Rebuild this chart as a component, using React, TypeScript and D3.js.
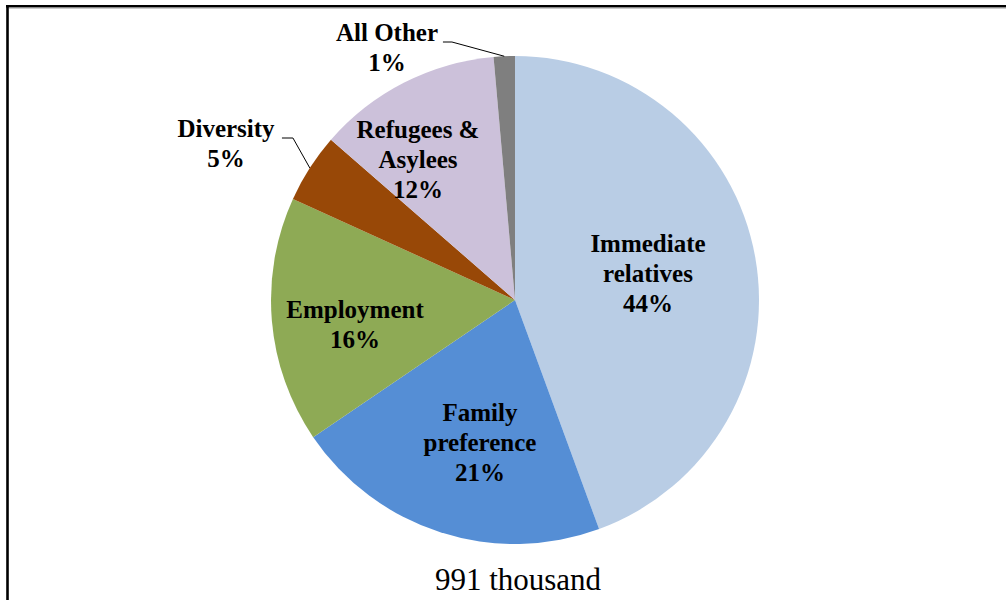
import * as d3 from "d3";

// categories & values (share of total, %)
const categories = [
  "Immediate relatives",
  "Family preference",
  "Employment",
  "Diversity",
  "Refugees & Asylees",
  "All Other",
];
const values = [44.4, 21.1, 16.3, 4.6, 12.2, 1.4];
const labelLines = [
  ["Immediate", "relatives"],
  ["Family", "preference"],
  ["Employment"],
  ["Diversity"],
  ["Refugees &", "Asylees"],
  ["All Other"],
];
const totalLabel = "991 thousand";

const colors = ["#b9cde5", "#558ed5", "#8eaa55", "#984807", "#ccc1da", "#7f7f7f"];

// label placement relative to pie center (block center), and leader line info
const labelLayout: { dx: number; dy: number; leader?: { elbow: number } }[] = [
  { dx: 133, dy: -26 },
  { dx: -35, dy: 143 },
  { dx: -160, dy: 25 },
  { dx: -289, dy: -156, leader: { elbow: 11 } },
  { dx: -97, dy: -140 },
  { dx: -128, dy: -252, leader: { elbow: 9 } },
];

const W = 1006;
const H = 600;
const cx = 515;
const cy = 300;
const radius = 244;
const lineH = 30;
const font = "Liberation Serif, DejaVu Serif, serif";

export default function App() {
  const total = d3.sum(values);
  const pie = d3
    .pie<number>()
    .sort(null)
    .value((d) => d)
    .startAngle(0)
    .endAngle(2 * Math.PI);
  const arcs = pie(values);
  const arc = d3.arc<d3.PieArcDatum<number>>().innerRadius(0).outerRadius(radius);

  return (
    <svg
      width={W}
      height={H}
      style={{ position: "absolute", left: 0, top: 0, background: "#fff" }}
    >
      <rect x={0} y={0} width={W} height={H} fill="#fff" />
      {/* frame (only top and left edges visible) */}
      <line x1={6} x2={W} y1={6.2} y2={6.2} stroke="#000" strokeWidth={2.6} />
      <line x1={7.5} x2={7.5} y1={5} y2={H} stroke="#000" strokeWidth={2.6} />
      <line x1={9} x2={W} y1={8} y2={8} stroke="#999" strokeWidth={1} />

      <g transform={`translate(${cx},${cy})`}>
        {arcs.map((a, i) => (
          <path key={categories[i]} d={arc(a) ?? ""} fill={colors[i]} />
        ))}

        {arcs.map((a, i) => {
          const lay = labelLayout[i];
          const lines = [...labelLines[i], `${Math.round((values[i] / total) * 100)}%`];
          const n = lines.length;
          const firstBase = lay.dy - ((n - 1) * lineH) / 2 + 8;
          let leader = null;
          if (lay.leader) {
            const mid = (a.startAngle + a.endAngle) / 2;
            const px = Math.sin(mid) * radius;
            const py = -Math.cos(mid) * radius;
            const textW = labelLines[i][0].length * 11.1;
            const lx = lay.dx + textW / 2 + 6;
            const ly = firstBase + 1;
            leader = (
              <polyline
                points={`${lx},${ly} ${lx + lay.leader.elbow},${ly} ${px},${py}`}
                fill="none"
                stroke="#000"
                strokeWidth={1}
              />
            );
          }
          return (
            <g key={`lbl-${categories[i]}`}>
              {leader}
              <text
                textAnchor="middle"
                style={{ fontFamily: font, fontWeight: 700, fontSize: 25 }}
                fill="#000"
              >
                {lines.map((t, j) => (
                  <tspan key={j} x={lay.dx} y={firstBase + j * lineH}>
                    {t}
                  </tspan>
                ))}
              </text>
            </g>
          );
        })}
      </g>

      <text
        x={cx + 3}
        y={590}
        textAnchor="middle"
        style={{ fontFamily: font, fontSize: 31 }}
        fill="#000"
      >
        {totalLabel}
      </text>
    </svg>
  );
}
